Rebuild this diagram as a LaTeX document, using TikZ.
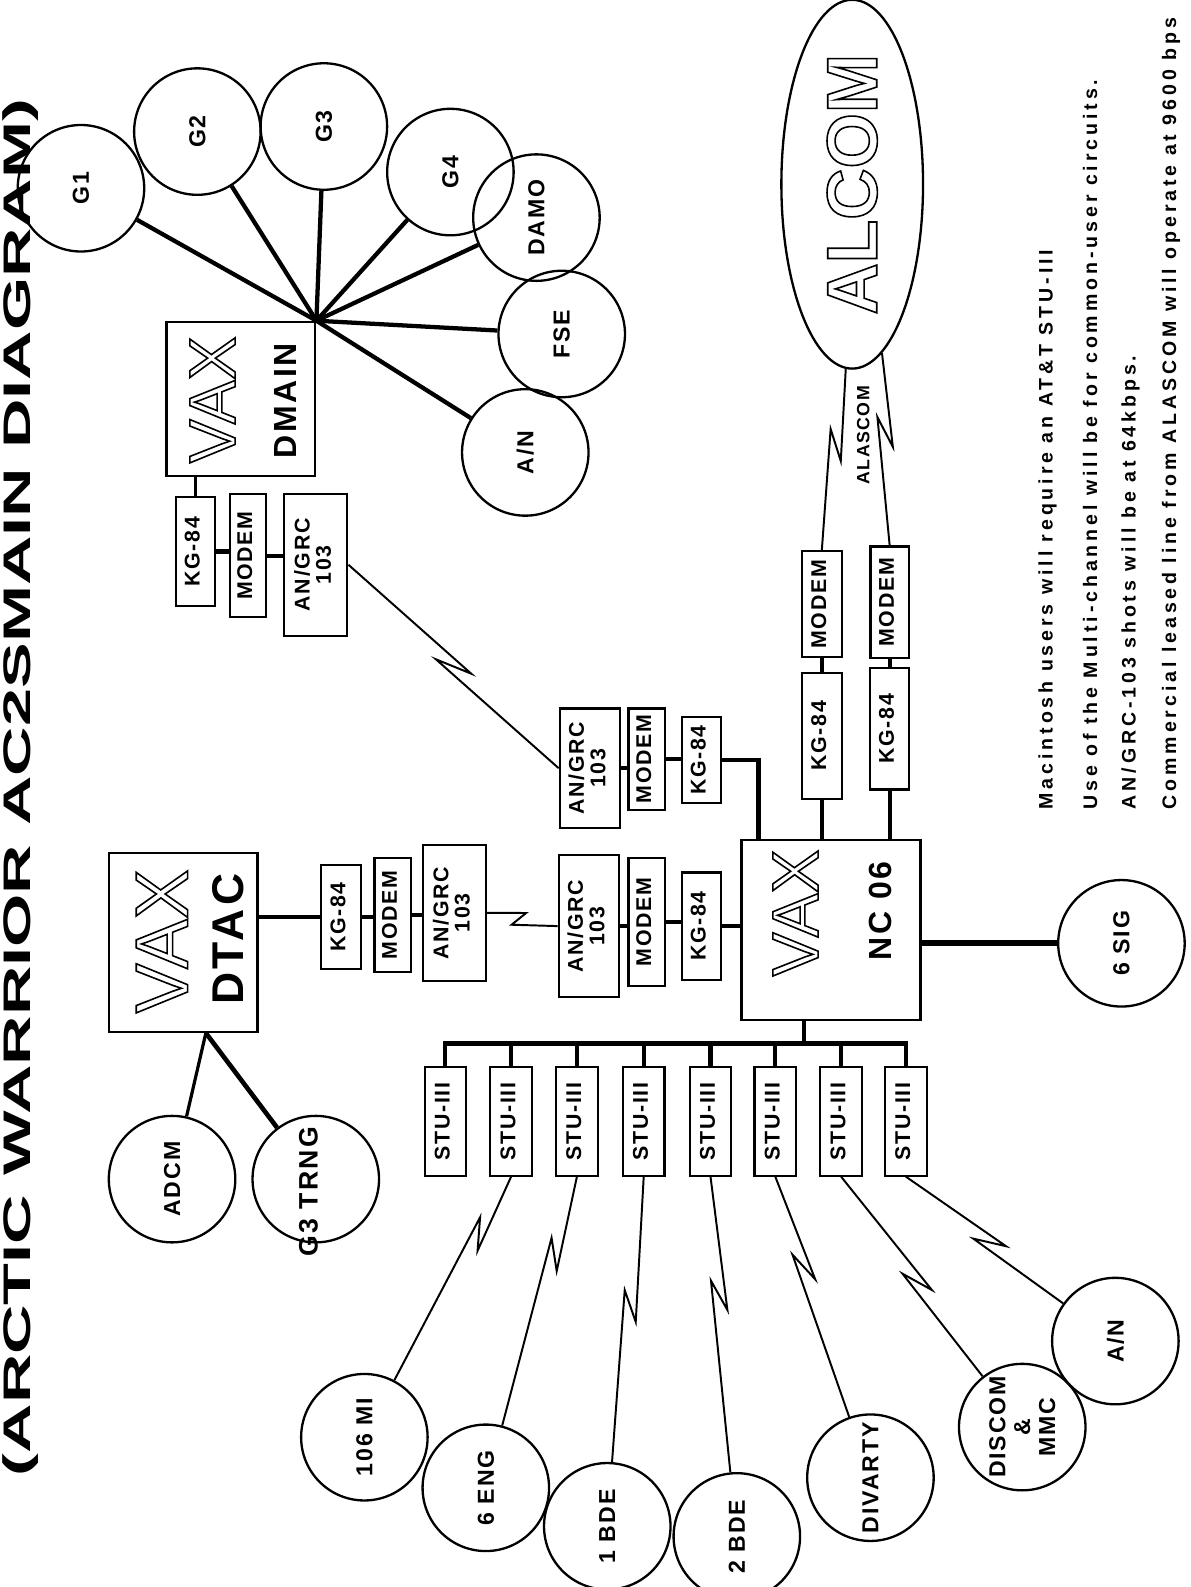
\documentclass[tikz,border=0pt]{standalone}
\usepackage{graphicx}
\usepackage{fontspec}
\setmainfont[LetterSpace=8]{Liberation Sans}
\newfontfamily\plainfont{Liberation Sans}
\newfontfamily\notefont[LetterSpace=20]{Liberation Sans}
\usetikzlibrary{calc}
\usetikzlibrary{shapes.geometric}

\newcommand{\hollow}[1]{\special{pdf:literal direct 1 Tr 0.9 w}#1\special{pdf:literal direct 0 Tr}}
\newcommand{\vt}[1]{\rotatebox{90}{\begin{tabular}{@{}c@{}}#1\end{tabular}}}

\begin{document}
\begin{tikzpicture}[x = 0.02cm, y = -0.02cm]
\tikzstyle{unitStyle}=[draw, line width = 1.2pt, inner sep = 0pt, font = \bfseries\fontsize{12}{12}\selectfont]
\tikzstyle{kgStyle}=[unitStyle, minimum width = 0.78cm, minimum height = 2.15cm]
\tikzstyle{modemStyle}=[unitStyle, minimum width = 0.72cm, minimum height = 2.3cm]
\tikzstyle{grcStyle}=[unitStyle, minimum width = 1.25cm, minimum height = 2.7cm]
\tikzstyle{stuStyle}=[unitStyle, minimum width = 0.82cm, minimum height = 2.14cm]
\tikzstyle{vaxStyle}=[draw, line width = 1.3pt]
\tikzstyle{hollowStyle}=[rotate = 90, inner sep = 0pt, font = \plainfont\fontsize{37}{37}\selectfont]
\tikzstyle{nameStyle}=[rotate = 90, inner sep = 0pt, font = \bfseries\fontsize{18}{18}\selectfont]
\tikzstyle{siteStyle}=[circle, draw, rotate = 90, line width = 1.3pt, minimum size = 2.5cm, inner sep = 0pt, align = center, font = \bfseries\fontsize{13}{14}\selectfont]
\tikzstyle{trunkStyle}=[line width = 2.4pt]
\tikzstyle{wireStyle}=[line width = 1.1pt, line join = miter]
\tikzstyle{noteStyle}=[rotate = 90, anchor = west, inner sep = 0pt, font = \notefont\bfseries\fontsize{11}{12}\selectfont]
\tikzset{radio/.style 2 args = {to path = {
  -- ($(\tikztostart)!#1!(\tikztotarget)!#2!(\tikztotarget)!4pt!90:(\tikztotarget)$)
  -- ($(\tikztostart)!#1!(\tikztotarget)!-#2!(\tikztotarget)!4pt!-90:(\tikztotarget)$)
  -- (\tikztotarget) \tikztonodes}}}

\useasboundingbox (0, 0) rectangle (1176, 1568);

% title
\node[rotate = 90, anchor = north, inner sep = 0pt, xscale = 1.07, yscale = 0.6, font = \plainfont\bfseries\fontsize{36}{36}\selectfont] (title) at (2, 778) {(ARCTIC WARRIOR AC2SMAIN DIAGRAM)};

% VAX DMAIN and its users
\node[vaxStyle, minimum width = 2.94cm, minimum height = 3.04cm] (dmain) at (238, 394) {};
\node[hollowStyle] (dmainVax) at (210, 395) {\hollow{VAX}};
\node[nameStyle] (dmainName) at (282, 396) {DMAIN};
\node[siteStyle] (g1) at (80, 186) {G1};
\node[siteStyle] (g2) at (195, 130) {G2};
\node[siteStyle] (g3) at (320, 125) {G3};
\node[siteStyle] (g4) at (445, 170) {G4};
\node[siteStyle] (damo) at (530, 215) {DAMO};
\node[siteStyle] (fse) at (555, 330) {FSE};
\node[siteStyle] (avnTop) at (519, 447) {A/N};
\coordinate (hub) at (dmain.north east);
\foreach \s in {g1, g2, g3, g4, damo, fse, avnTop}
  \draw[trunkStyle] (hub) -- (\s);

\node[kgStyle] (kgD) at (193, 545) {\vt{KG-84}};
\node[modemStyle, minimum height = 2.44cm] (modemD) at (245, 549) {\vt{MODEM}};
\node[grcStyle, minimum height = 2.8cm] (grcD) at (312, 558) {\vt{AN/GRC\\103}};
\draw[line width = 1.5pt] (kgD.north) -- (kgD.north |- dmain.south);
\draw[trunkStyle] (kgD.east) -- (kgD.east -| modemD.west);
\draw[trunkStyle] (modemD.east) -- (modemD.east -| grcD.west);

% VAX NC 06
\node[vaxStyle, minimum width = 3.54cm, minimum height = 3.56cm] (nc06) at (821, 919) {};
\node[hollowStyle] (nc06Vax) at (786, 902) {\hollow{VAX}};
\node[nameStyle] (nc06Name) at (870, 900) {NC 06};

\node[grcStyle, minimum width = 1.2cm, minimum height = 2.36cm] (grcM1) at (583, 759) {\vt{AN/GRC\\103}};
\node[modemStyle, minimum height = 2.0cm] (modemM1) at (639, 750) {\vt{MODEM}};
\node[kgStyle, minimum height = 1.7cm] (kgM1) at (693, 751) {\vt{KG-84}};
\draw[wireStyle] (grcD.east) to[radio = {0.5}{0.35cm}] (grcM1.west);
\draw[trunkStyle] (grcM1.east) -- (grcM1.east -| modemM1.west);
\draw[trunkStyle] (modemM1.east) -- (modemM1.east -| kgM1.west);
\draw[trunkStyle] (kgM1.east) -| ($(nc06.north west)!0.1!(nc06.north east)$);

\node[grcStyle, minimum width = 1.2cm, minimum height = 2.8cm] (grcM2) at (582, 915) {\vt{AN/GRC\\103}};
\node[modemStyle, minimum height = 2.54cm] (modemM2) at (639, 911) {\vt{MODEM}};
\node[kgStyle, minimum height = 2.12cm] (kgM2) at (693, 915) {\vt{KG-84}};
\draw[trunkStyle] (kgM2.east) -- (kgM2.east -| nc06.west);
\draw[trunkStyle] (modemM2.east) -- (modemM2.east -| kgM2.west);
\draw[trunkStyle] (grcM2.east) -- (grcM2.east -| modemM2.west);

% VAX DTAC
\node[vaxStyle, minimum width = 2.94cm, minimum height = 3.54cm] (dtac) at (181, 931) {};
\node[hollowStyle, font = \plainfont\fontsize{42}{42}\selectfont] (dtacVax) at (160, 930) {\hollow{VAX}};
\node[nameStyle, font = \bfseries\fontsize{25}{25}\selectfont] (dtacName) at (225, 928) {DTAC};
\node[kgStyle, minimum height = 2.06cm] (kgT) at (337, 906) {\vt{KG-84}};
\node[modemStyle, minimum height = 2.24cm] (modemT) at (388, 904) {\vt{MODEM}};
\node[grcStyle] (grcT) at (449, 902) {\vt{AN/GRC\\103}};
\draw[trunkStyle] (kgT.west) -- (kgT.west -| dtac.east);
\draw[trunkStyle] (kgT.east) -- (kgT.east -| modemT.west);
\draw[trunkStyle] (modemT.east) -- (modemT.east -| grcT.west);
\draw[wireStyle] (grcT.east) to[radio = {0.45}{0.12cm}] (grcM2.west);

\node[siteStyle] (adcm) at (170, 1165) {ADCM};
\node[siteStyle, font = \bfseries\fontsize{15}{15}\selectfont] (g3trng) at (312, 1165) {\hspace*{-0.5cm}\raisebox{0.3cm}{G3 TRNG}};
\coordinate (dtacFoot) at ($(dtac.south west)!0.65!(dtac.south east)$);
\draw[line width = 1.8pt] (dtacFoot) -- (adcm);
\draw[line width = 2.6pt] (dtacFoot) -- (g3trng);

% ALASCOM leased lines
\node[ellipse, draw, rotate = 90, line width = 1.3pt, minimum width = 7.12cm, minimum height = 2.8cm, inner sep = 0pt, font = \plainfont\bfseries\fontsize{40}{40}\selectfont] (alcom) at (842, 182) {\hollow{ALCOM}};
\node[kgStyle, minimum height = 2.5cm] (kgA1) at (812, 727) {\vt{KG-84}};
\node[modemStyle, minimum width = 0.78cm, minimum height = 2.1cm] (modemA1) at (812, 597) {\vt{MODEM}};
\node[kgStyle, minimum height = 2.4cm] (kgA2) at (879, 720) {\vt{KG-84}};
\node[modemStyle, minimum width = 0.76cm, minimum height = 2.2cm] (modemA2) at (879, 595) {\vt{MODEM}};
\draw[trunkStyle] (kgA1.south) -- (kgA1.south |- nc06.north);
\draw[trunkStyle] (kgA2.south) -- (kgA2.south |- nc06.north);
\draw[trunkStyle] (kgA1.north) -- (modemA1.south);
\draw[trunkStyle] (kgA2.north) -- (modemA2.south);
\draw[wireStyle] (modemA1.north) to[radio = {0.58}{0.3cm}] (alcom.178);
\draw[wireStyle] (modemA2.north) to[radio = {0.59}{0.3cm}] (alcom.190);
\node[rotate = 90, inner sep = 0pt, font = \bfseries\fontsize{10}{10}\selectfont] (alascom) at (853, 430) {ALASCOM};

% 6 SIG
\node[siteStyle] (sig6) at (1108, 932) {6 SIG};
\draw[line width = 3.4pt] (sig6) -- (sig6 -| nc06.east);

% STU-III bus
\coordinate (busTap) at ($(nc06.south west)!0.35!(nc06.south east)$);
\coordinate (busMid) at ($(busTap) + (0, 22)$);
\foreach \x [count = \i] in {440, 505, 570, 636, 702, 766, 831, 895}
  \node[stuStyle] (stu\i) at (\x, 1108) {\vt{STU-III}};
\draw[trunkStyle] (busTap) -- (busMid);
\draw[trunkStyle] (stu1.north) |- (busMid) -| (stu8.north);
\foreach \i in {2, ..., 7}
  \draw[trunkStyle] (stu\i.north) -- (stu\i.north |- busMid);

\node[siteStyle] (mi106) at (360, 1420) {106 MI};
\node[siteStyle] (eng6) at (480, 1470) {6 ENG};
\node[siteStyle] (bde1) at (600, 1508) {1 BDE};
\node[siteStyle] (bde2) at (728, 1518) {2 BDE};
\node[siteStyle] (divarty) at (860, 1460) {DIVARTY};
\node[siteStyle] (discom) at (1010, 1410) {DISCOM\\\&\\MMC};
\node[siteStyle] (avnBot) at (1102, 1325) {A/N};
\draw[wireStyle] (stu2.south) to[radio = {0.22}{0.3cm}] (mi106);
\draw[wireStyle] (stu3.south) to[radio = {0.25}{0.3cm}] (eng6);
\draw[wireStyle] (stu4.south) to[radio = {0.37}{0.3cm}] (bde1);
\draw[wireStyle] (stu5.south) to[radio = {0.33}{0.3cm}] (bde2);
\draw[wireStyle] (stu6.south) to[radio = {0.3}{0.3cm}] (divarty);
\draw[wireStyle] (stu7.south) to[radio = {0.42}{0.3cm}] (discom);
\draw[wireStyle] (stu8.south) to[radio = {0.4}{0.3cm}] (avnBot);

% notes
\node[noteStyle] (note1) at (1035, 800) {Macintosh users will require an AT\&T STU-III};
\node[noteStyle] (note2) at (1077, 800) {Use of the Multi-channel will be for common-user circuits.};
\node[noteStyle] (note3) at (1117, 800) {AN/GRC-103 shots will be at 64kbps.};
\node[noteStyle] (note4) at (1157, 800) {Commercial leased line from ALASCOM will operate at 9600 bps};
\end{tikzpicture}
\end{document}
